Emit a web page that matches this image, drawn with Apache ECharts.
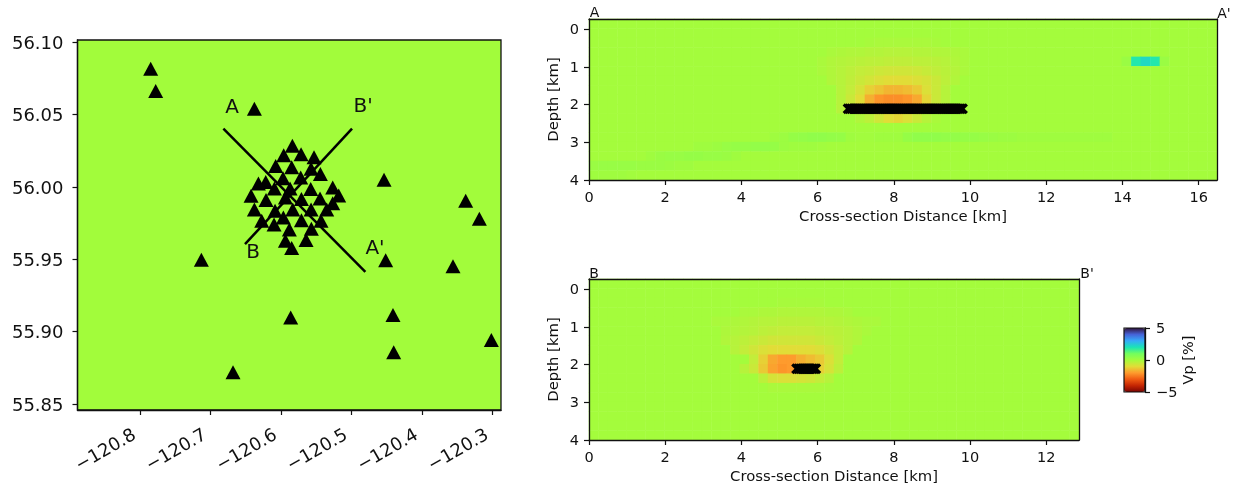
<!DOCTYPE html>
<html><head><meta charset="utf-8">
<style>html,body{margin:0;padding:0;background:#fff}#c{width:1237px;height:488px;filter:blur(0.5px)}</style>
<script src="https://cdn.jsdelivr.net/npm/echarts@6/dist/echarts.min.js"></script>
</head><body><div id="c"></div>
<script>
// Station map
const stationLon = [-120.7849,-120.7778,-120.6378,-120.4539,-120.3381,-120.3187,-120.3561,-120.4516,-120.7130,-120.5863,-120.4412,-120.4402,-120.3017,-120.6681,
 -120.5839,-120.5962,-120.5716,-120.5532,-120.6076,-120.5849,-120.5574,-120.5442,-120.5972,-120.5721,-120.6321,-120.6217,-120.6094,-120.5872,-120.5579,-120.5267,-120.5182,-120.6425,-120.6213,-120.5938,-120.5711,-120.5447,-120.5267,-120.6378,-120.6085,-120.5834,-120.5574,-120.5352,-120.6274,-120.5967,-120.5711,-120.5433,-120.6099,-120.5882,-120.5570,-120.5938,-120.5645,-120.5849];
const stationLat = [56.0817,56.0663,56.0541,56.0050,55.9905,55.9780,55.9453,55.9494,55.9497,55.9098,55.9116,55.8858,55.8943,55.8720,
 56.0285,56.0219,56.0226,56.0205,56.0145,56.0136,56.0126,56.0090,56.0060,56.0066,56.0025,56.0034,55.9990,55.9990,55.9986,55.9997,55.9942,55.9940,55.9910,55.9928,55.9917,55.9921,55.9887,55.9845,55.9836,55.9845,55.9845,55.9845,55.9767,55.9790,55.9771,55.9767,55.9741,55.9707,55.9712,55.9629,55.9633,55.9578];
const lineA = [[-120.6818,56.0403],[-120.4804,55.9414]];
const lineB = [[-120.6511,55.9605],[-120.4993,56.0403]];
const sectionLabels = ['A','B\'','B','A\''];
const sectionLabelLon = [-120.6695,-120.4837,-120.6397,-120.4667];
const sectionLabelLat = [56.0546,56.0553,55.9543,55.9571];
const lonTicks = [-120.8,-120.7,-120.6,-120.5,-120.4,-120.3];
const latTicks = [55.85,55.90,55.95,56.00,56.05,56.10];

// Sections: [row, first column, values] on a 0.25 km cell grid, everything else 0
const topCols = 66, bottomCols = 52, sectionRows = 17;
const topAnomaly = [
 [2,29,[-.05,-.1,-.1,-.1,-.1,-.1,-.1,-.05]],
 [3,25,[-.1,-.15,-.2,-.2,-.25,-.25,-.3,-.3,-.3,-.25,-.25,-.2,-.2,-.15,-.1]],
 [4,24,[-.1,-.2,-.25,-.3,-.35,-.4,-.4,-.45,-.45,-.45,-.4,-.4,-.35,-.3,-.2,-.1]],
 [4,56,[.2,1.9,2.2,1.9,.2]],
 [5,24,[-.1,-.2,-.3,-.4,-.5,-.55,-.65,-.7,-.7,-.7,-.65,-.55,-.45,-.35,-.25,-.1]],
 [6,25,[-.2,-.3,-.45,-.6,-.75,-.9,-1,-1,-1,-.9,-.8,-.6,-.4,-.2]],
 [7,26,[-.3,-.5,-.8,-1.2,-1.4,-1.6,-1.6,-1.5,-1.3,-.9,-.6,-.3]],
 [8,26,[-.3,-.6,-1,-1.7,-2.1,-2.2,-2.2,-2.1,-1.8,-1.1,-.6,-.3]],
 [9,26,[-.3,-.6,-1,-1.6,-1.9,-2,-2,-1.9,-1.6,-1,-.6,-.3]],
 [10,28,[-.2,-.4,-.7,-1,-1.1,-.9,-.6,-.3,-.1]],
 [12,19,[.1,.15,.3,.35,.4,.4,.35,.3,.1,.05,.05,.1,.1,.1,.3,.4,.4,.4,.35,.35,.3,.3,.25,.2,.15,.15,.1,.1,.1,.1,.1,.1,.1,.1,.1,.1]],
 [13,11,[.1,.1,.15,.25,.3,.3,.35,.35,.3,.15,.1,.1,.1,.05]],
 [14,6,[.1,.2,.25,.25,.3,.3,.25,.25,.2,.1]],
 [15,0,[.2,.25,.25,.25,.25,.2,.2,.2,.15,.1,.1]],
 [16,0,[.1,.1,.1,.1,.05]]
];
const bottomAnomaly = [
 [2,20,[-.05,-.05,-.05,-.05,-.05]],
 [3,16,[-.1,-.1,-.15,-.15,-.2,-.2,-.2,-.2,-.2,-.15,-.15,-.1]],
 [4,13,[-.1,-.1,-.15,-.2,-.25,-.3,-.3,-.35,-.35,-.35,-.35,-.3,-.3,-.25,-.2,-.15,-.1,-.1]],
 [5,14,[-.15,-.2,-.25,-.3,-.4,-.45,-.5,-.5,-.5,-.5,-.45,-.4,-.35,-.3,-.2,-.1]],
 [6,14,[-.2,-.3,-.4,-.5,-.6,-.7,-.7,-.7,-.7,-.7,-.6,-.5,-.4,-.3,-.2]],
 [7,15,[-.3,-.5,-.7,-.9,-1,-1,-1,-1,-1,-.9,-.7,-.5,-.3]],
 [8,17,[-.5,-1.2,-1.8,-2,-2,-1.7,-1.5,-1.3,-.9,-.5]],
 [9,16,[-.3,-.6,-1.3,-1.9,-2.1,-2,-1.6,-1.4,-1.2,-.8,-.4]],
 [10,18,[-.4,-.8,-.9,-.9,-.8,-.7,-.5,-.3]],
 [11,19,[-.1,-.1,-.1,-.1,-.1,-.1,-.05]]
];
// Event markers along each section
const topEventX = [6.8,6.85,6.9,6.95,7,7.05,7.1,7.15,7.2,7.25,7.3,7.35,7.4,7.45,7.5,7.55,7.6,7.65,7.7,7.75,7.8,7.85,7.9,7.95,8,8.05,8.1,8.15,8.2,8.25,8.3,8.35,8.4,8.45,8.5,8.55,8.6,8.65,8.7,8.75,8.8,8.85,8.9,8.95,9,9.05,9.1,9.15,9.2,9.25,9.3,9.35,9.4,9.45,9.5,9.55,9.6,9.65,9.7,9.75,9.8];
const bottomEventX = [5.45,5.5,5.55,5.6,5.65,5.7,5.75,5.8,5.85,5.9,5.95];
const eventDepth = 2.11;
const topXTicks = [0,2,4,6,8,10,12,14,16];
const bottomXTicks = [0,2,4,6,8,10,12];
const depthTicks = [0,1,2,3,4];
const colorbarTicks = [-5,0,5];
const turboReversed = ['#7a0403','#c42503','#f05b12','#fe9b2d','#e1dd37','#a4fc3c','#72fe5e','#1ae4b6','#36aaf9','#4662d7','#30123b'];

const INK = '#111', FF = 'DejaVu Sans';
function cells(cols, rows, anomaly){
  const m = [];
  for(let r=0;r<rows;r++){ m.push(new Array(cols).fill(0)); }
  anomaly.forEach(([r,c,vals])=>vals.forEach((v,i)=>{ m[r][c+i]=v; }));
  const out=[];
  m.forEach((row,r)=>row.forEach((v,c)=>out.push([c,r,v])));
  return out;
}
function range(n){ return Array.from({length:n},(_,i)=>i); }
const minus = v => String(v).replace('-','\u2212');
const lineCommon = {lineStyle:{color:INK,width:1.3}};
const tickCommon = {show:true,length:5,lineStyle:{color:INK,width:1.2}};
function sectionX(idx,max,ticks){ return {type:'value',gridIndex:idx,min:0,max:max,position:'bottom',z:5,splitLine:{show:false},
  axisLine:{show:true,onZero:false,...lineCommon},axisTick:{...tickCommon,customValues:ticks},
  axisLabel:{customValues:ticks,color:INK,fontSize:14.5,fontFamily:FF,margin:11,formatter:v=>String(v)},
  name:'Cross-section Distance [km]',nameLocation:'middle',nameGap:30,nameMoveOverlap:false,nameTextStyle:{color:INK,fontSize:14.8,fontFamily:FF}}; }
function sectionY(idx){ return {type:'value',gridIndex:idx,min:-0.27,max:4,inverse:true,position:'left',z:5,splitLine:{show:false},
  axisLine:{show:true,onZero:false,...lineCommon},axisTick:{...tickCommon,customValues:depthTicks},
  axisLabel:{customValues:depthTicks,color:INK,fontSize:14.5,fontFamily:FF,margin:10,verticalAlign:'top',padding:[-6.5,0,0,0],formatter:v=>String(v)},
  name:'Depth [km]',nameLocation:'middle',nameGap:27,nameMoveOverlap:false,nameTextStyle:{color:INK,fontSize:14.8,fontFamily:FF}}; }
function catX(idx,n){ return {type:'category',gridIndex:idx,data:range(n),position:'top',z:5,axisLine:{show:true,onZero:false,...lineCommon},axisTick:{show:false},axisLabel:{show:false},splitLine:{show:false}}; }
function catY(idx,n){ return {type:'category',gridIndex:idx,data:range(n),inverse:true,position:'right',z:5,axisLine:{show:true,onZero:false,...lineCommon},axisTick:{show:false},axisLabel:{show:false},splitLine:{show:false}}; }
const crossSymbol = 'path://M0 2 L2 0 L5 3 L8 0 L10 2 L7 5 L10 8 L8 10 L5 7 L2 10 L0 8 L3 5 Z';
const sectionText = (t,x,y)=>({type:'text',x:x,y:y,style:{text:t,fill:INK,font:'14px "DejaVu Sans"',textAlign:'center',textVerticalAlign:'middle'}});

const option = {
 backgroundColor:'#fff',animation:false,
 grid:[
  {left:77.5,top:40,width:423.5,height:370,show:true,backgroundColor:'#a2fc3b',borderColor:INK,borderWidth:1.3},
  {left:589,top:19,width:628,height:161},
  {left:589,top:279,width:490,height:161},
  {left:1124,top:328,width:21,height:64,show:true,backgroundColor:'transparent',borderColor:INK,borderWidth:1.2,z:6}
 ],
 xAxis:[
  {type:'value',gridIndex:0,min:-120.8887,max:-120.288,splitLine:{show:false},axisLine:{show:true,onZero:false,...lineCommon},
   axisTick:{...tickCommon,customValues:lonTicks},
   axisLabel:{customValues:lonTicks,rotate:30,color:INK,fontSize:18,fontFamily:FF,margin:21,padding:[0,6,0,0],formatter:v=>minus(v.toFixed(1))}},
  sectionX(1,16.48,topXTicks),catX(1,topCols),
  sectionX(2,12.86,bottomXTicks),catX(2,bottomCols),
  {type:'value',gridIndex:3,min:0,max:1,show:false}
 ],
 yAxis:[
  {type:'value',gridIndex:0,min:55.8459,max:56.1016,splitLine:{show:false},axisLine:{show:true,onZero:false,...lineCommon},
   axisTick:{...tickCommon,customValues:latTicks},
   axisLabel:{customValues:latTicks,color:INK,fontSize:18,fontFamily:FF,margin:14,verticalAlign:'top',padding:[-7,0,0,0],formatter:v=>v.toFixed(2)}},
  sectionY(1),catY(1,sectionRows),
  sectionY(2),catY(2,sectionRows),
  {type:'value',gridIndex:3,min:-5,max:5,position:'right',z:7,splitLine:{show:false},axisLine:{show:true,onZero:false,...lineCommon},
   axisTick:{...tickCommon,customValues:colorbarTicks},
   axisLabel:{customValues:colorbarTicks,color:INK,fontSize:14.5,fontFamily:FF,margin:11,verticalAlign:'top',padding:[-6.5,0,0,0],formatter:v=>minus(v)},
   name:'Vp [%]',nameLocation:'middle',nameGap:37,nameMoveOverlap:false,nameRotate:90,nameTextStyle:{color:INK,fontSize:14.5,fontFamily:FF}}
 ],
 visualMap:{type:'continuous',show:true,min:-5,max:5,seriesIndex:[0,1],calculable:false,left:1124,top:328,itemWidth:21,itemHeight:64,text:null,showLabel:false,z:1,
   inRange:{color:turboReversed},textStyle:{color:'transparent',fontSize:1},padding:0},
 graphic:[sectionText('A',594.5,13),sectionText('A\'',1224,14),sectionText('B',594,274),sectionText('B\'',1087,274)],
 series:[
  {type:'heatmap',xAxisIndex:2,yAxisIndex:2,data:cells(topCols,sectionRows,topAnomaly),silent:true,progressive:0,z:1},
  {type:'heatmap',xAxisIndex:4,yAxisIndex:4,data:cells(bottomCols,sectionRows,bottomAnomaly),silent:true,progressive:0,z:1},
  {type:'scatter',xAxisIndex:1,yAxisIndex:1,data:topEventX.map(x=>[x,eventDepth]),symbol:crossSymbol,symbolSize:11,itemStyle:{color:'#000',opacity:1},silent:true,z:3},
  {type:'scatter',xAxisIndex:3,yAxisIndex:3,data:bottomEventX.map(x=>[x,eventDepth]),symbol:crossSymbol,symbolSize:11,itemStyle:{color:'#000',opacity:1},silent:true,z:3},
  {type:'line',xAxisIndex:0,yAxisIndex:0,data:lineA,symbol:'none',lineStyle:{color:'#000',width:2.5},silent:true,z:3},
  {type:'line',xAxisIndex:0,yAxisIndex:0,data:lineB,symbol:'none',lineStyle:{color:'#000',width:2.5},silent:true,z:3},
  {type:'scatter',xAxisIndex:0,yAxisIndex:0,data:stationLon.map((x,i)=>[x,stationLat[i]]),symbol:'triangle',symbolSize:[15,14],itemStyle:{color:'#000',opacity:1},silent:true,z:4},
  {type:'scatter',xAxisIndex:0,yAxisIndex:0,data:sectionLabels.map((t,i)=>({name:t,value:[sectionLabelLon[i],sectionLabelLat[i]]})),symbolSize:1,itemStyle:{color:'transparent',opacity:1},silent:true,z:5,
   label:{show:true,position:'inside',formatter:p=>p.name,color:INK,fontSize:20,fontFamily:FF}}
 ]
};
const chart = echarts.init(document.getElementById('c'),null,{renderer:'canvas'});
chart.setOption(option);
</script></body></html>
